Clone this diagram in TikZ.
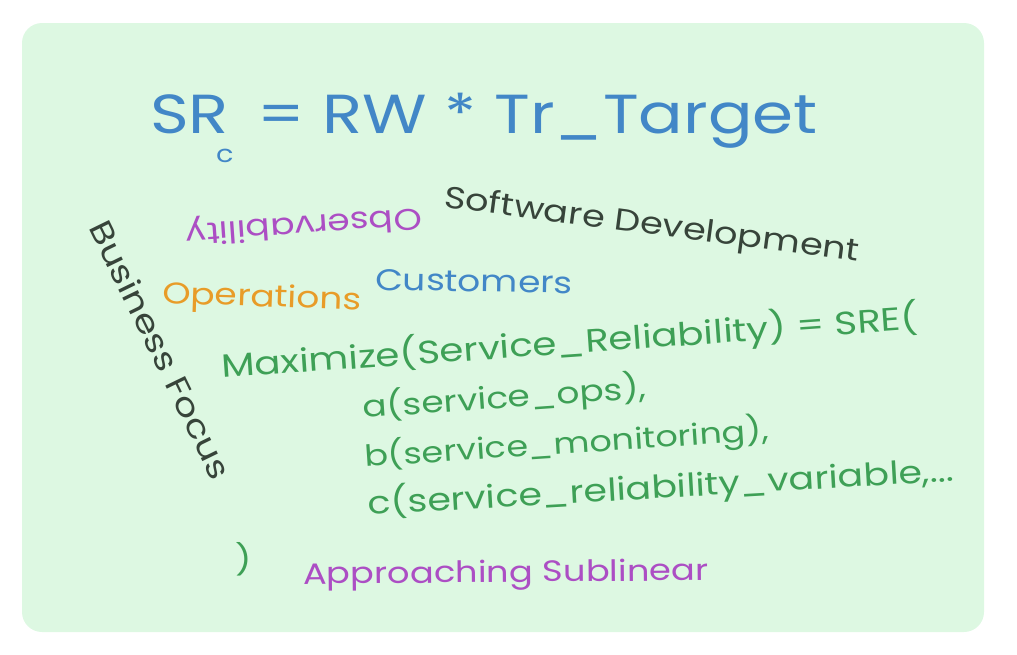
\documentclass[tikz,border=0pt]{standalone}
\usepackage{fontspec}
\setmainfont{Poppins}[FakeStretch=1.2]
\usepackage{tikz}
\usetikzlibrary{positioning}
\definecolor{paneFill}{RGB}{221,248,226}
\definecolor{inkBlue}{RGB}{66,135,199}
\definecolor{inkDark}{RGB}{55,68,58}
\definecolor{inkPurple}{RGB}{172,78,196}
\definecolor{inkOrange}{RGB}{232,156,40}
\definecolor{inkGreen}{RGB}{62,160,86}
\tikzset{
    pane/.style={fill=paneFill,draw=none,rounded corners=20pt},
    word/.style={inner sep=0pt,anchor=base west,font=\fontsize{30}{36}\selectfont},
    bigword/.style={inner sep=0pt,anchor=base west,font=\fontsize{55}{60}\selectfont},
    subword/.style={inner sep=0pt,anchor=base west,font=\fontsize{24}{28}\selectfont},
    sized/.style={font=\fontsize{#1}{36}\selectfont}
}

\begin{document}
\begin{tikzpicture}[x=1pt,y=-1pt]
    \useasboundingbox (0,0) rectangle (1017,654);
    \path[pane] (22,23) rectangle (984,632);

    \node[bigword,text=inkBlue]  (sr)    at (150,133) {SR};
    \node[subword,text=inkBlue]  (srsub) at (216,162) {c};
    \node[bigword,text=inkBlue]  (eq)    at (257,133) {= RW * Tr\_Target};

    \node[word,text=inkPurple,anchor=center,rotate=184] (obs) at (304,224) {Observability};
    \node[word,sized=30.6,text=inkDark,rotate=-7.5] (soft) at (443,207) {Software Development};
    \node[word,sized=31.5,text=inkDark,rotate=-64]  (bus)  at (88,227)  {Business Focus};
    \node[word,text=inkOrange,rotate=-2] (ops)  at (162,303) {Operations};
    \node[word,text=inkBlue,rotate=-1]   (cust) at (375,290) {Customers};

    \node[word,sized=32.3,text=inkGreen,rotate=4]   (maxi) at (222,378) {Maximize(Service\_Reliability) = SRE(};
    \node[word,text=inkGreen,rotate=4]              (lna)  at (363,418) {a(service\_ops),};
    \node[word,sized=29.2,text=inkGreen,rotate=3.8] (lnb)  at (365,467) {b(service\_monitoring),};
    \node[word,sized=31.6,text=inkGreen,rotate=3.3] (lnc)  at (368,515) {c(service\_reliability\_variable,...};
    \node[word,text=inkGreen]                       (cls)  at (235,570) {)};
    \node[word,sized=29.4,text=inkPurple,rotate=0.5] (appr) at (303,584) {Approaching Sublinear};
\end{tikzpicture}
\end{document}
